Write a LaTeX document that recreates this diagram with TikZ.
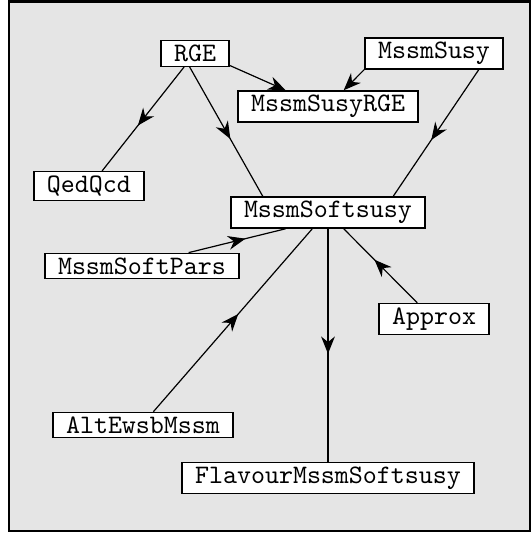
\documentclass[tikz,border=0pt]{standalone}
\usetikzlibrary{arrows.meta,decorations.markings}

\begin{document}
\begin{tikzpicture}[x=0.375pt, y=-0.375pt,
	klasse/.style={draw, fill=white, line width=0.5pt, font=\ttfamily, inner xsep=4.9pt, inner ysep=1.6pt},
	spitze/.style={-{Stealth[length=6.5pt, width=5.2pt]}, line width=0.45pt},
	mitte/.style={line width=0.45pt, decoration={markings, mark=at position 0.5 with {\arrow[xshift=3.2pt]{Stealth[length=6.5pt, width=5.2pt]}}}, postaction={decorate}}]

%% Hintergrund
\useasboundingbox (0,0) rectangle (531,533);
\draw[fill=gray!20, line width=0.8pt] (9,1.5) rectangle (530,531);
%%%%%%%%%%%%%%%%

%% Klassen
\node[klasse] (RGE) at (195,53.5) {RGE};
\node[klasse] (MssmSusy) at (434,53.5) {MssmSusy};
\node[klasse] (MssmSusyRGE) at (328,106.5) {MssmSusyRGE};
\node[klasse] (QedQcd) at (89,186) {QedQcd};
\node[klasse] (MssmSoftsusy) at (328,212.5) {MssmSoftsusy};
\node[klasse] (MssmSoftPars) at (142,266) {MssmSoftPars};
\node[klasse] (Approx) at (434,319) {Approx};
\node[klasse] (AltEwsbMssm) at (143,425) {AltEwsbMssm};
\node[klasse] (Flavour) at (328,478) {FlavourMssmSoftsusy};
%%%%%%%%%%%%%%%%

%% Abhaengigkeiten
\draw[mitte] (RGE.231) -- (QedQcd.49);
\draw[mitte] (RGE.248) -- (MssmSoftsusy.166);
\draw[spitze] (RGE.-19) -- (MssmSusyRGE.159);
\draw[spitze] (MssmSusy.193) -- (MssmSusyRGE.46);
\draw[mitte] (MssmSusy.340) -- (MssmSoftsusy.14);
\draw[mitte] (MssmSoftPars.16) -- (MssmSoftsusy.201);
\draw[mitte] (Approx.136) -- (MssmSoftsusy.-46);
\draw[mitte] (AltEwsbMssm.52) -- (MssmSoftsusy.226);
\draw[mitte] (MssmSoftsusy) -- (Flavour);

\end{tikzpicture}
\end{document}
